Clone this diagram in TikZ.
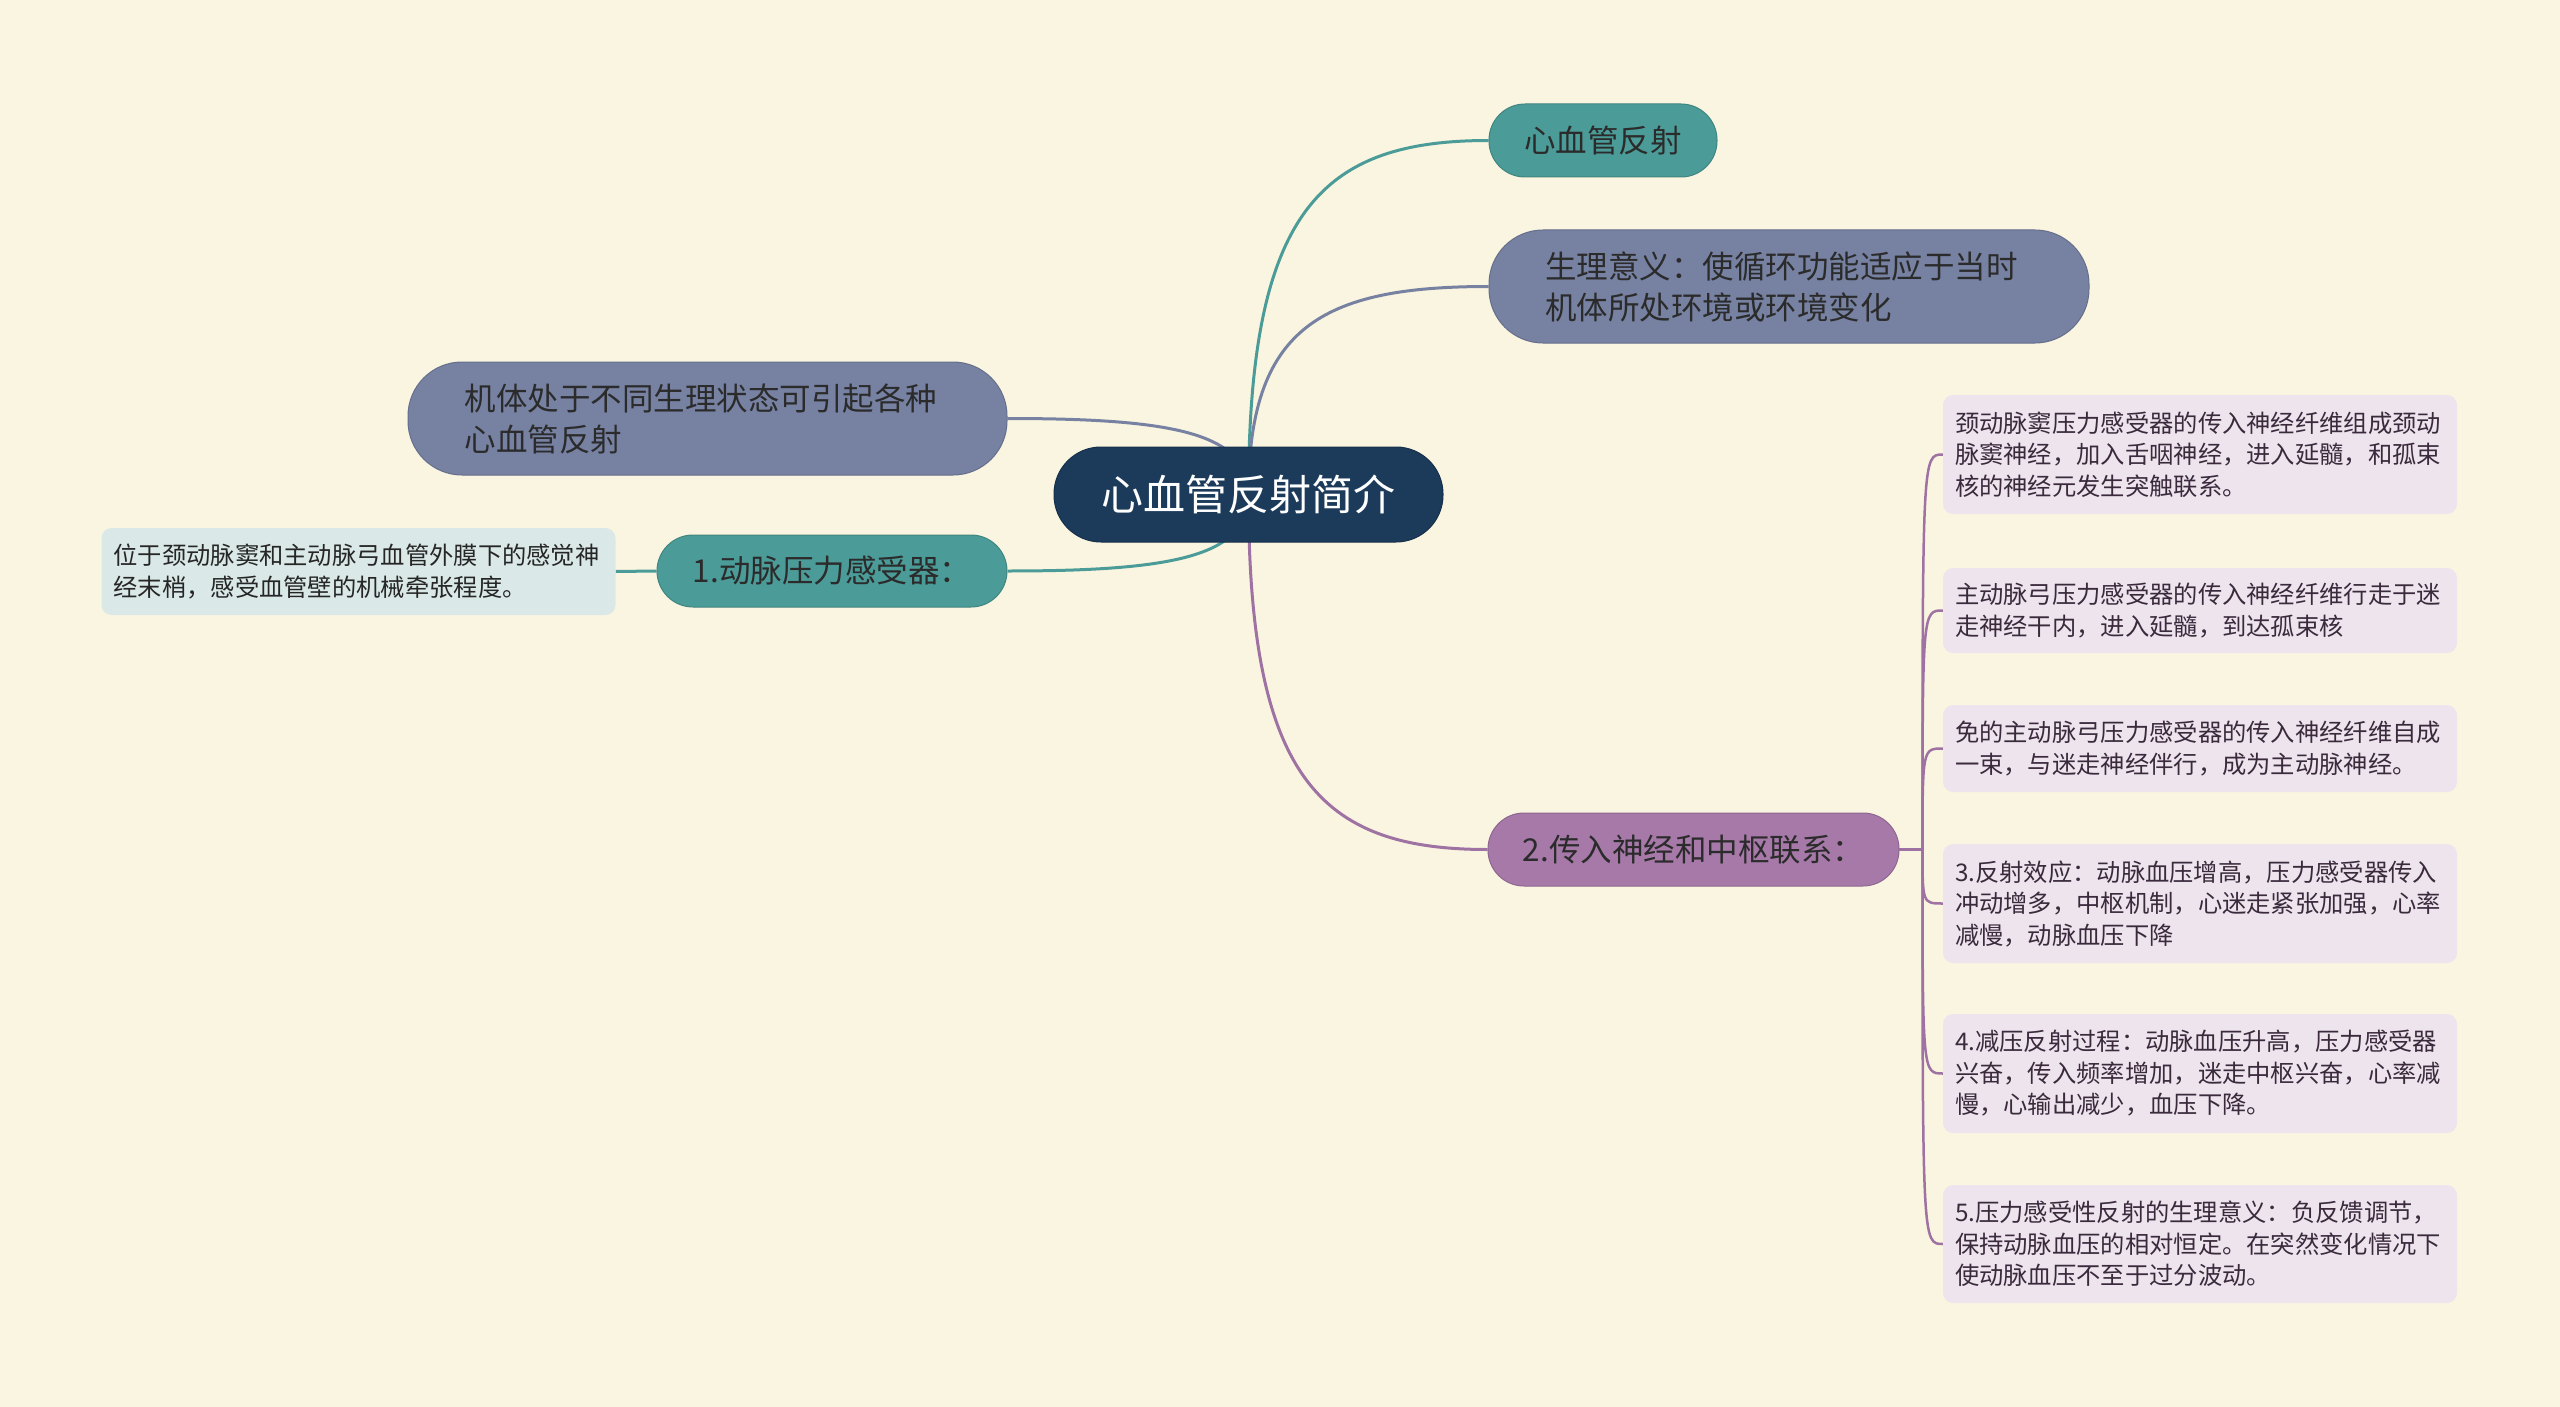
\documentclass[tikz,border=0pt]{standalone}
\usepackage{fontspec}
\newfontfamily\cjk{Noto Sans CJK SC}
\usetikzlibrary{calc}
\definecolor{bgc}{HTML}{FAF5E0}
\definecolor{navy}{HTML}{1C3B5B}
\definecolor{tealc}{HTML}{4B9C98}
\definecolor{slatec}{HTML}{7782A3}
\definecolor{purplec}{HTML}{A679A9}
\definecolor{purpleline}{HTML}{9E72A2}
\definecolor{lpurple}{HTML}{EDE4EE}
\definecolor{lblue}{HTML}{DAE9E8}
\definecolor{darktext}{HTML}{2B2B2B}
\definecolor{boxtext}{HTML}{3A2A3C}
\pgfdeclarelayer{bg}
\pgfdeclarelayer{edges}
\pgfsetlayers{bg,edges,main}
\begin{document}
\begin{tikzpicture}[x=1pt,y=-1pt,
  rootnode/.style={fill=navy, draw=navy!80!black, line width=1pt, text=white, inner sep=0pt,
    minimum width=389pt, minimum height=95pt, rounded corners=47pt,
    font={\cjk\fontsize{42}{50}\selectfont}},
  pill/.style={line width=1pt, text=darktext, inner sep=0pt,
    font={\cjk\fontsize{31.5}{41}\selectfont}},
  tealpill/.style={pill, fill=tealc, draw=tealc!85!black},
  slatepill/.style={pill, fill=slatec, draw=slatec!85!black},
  purplepill/.style={pill, fill=purplec, draw=purplec!85!black},
  infobox/.style={fill=lpurple, text=boxtext, inner xsep=12pt, inner ysep=0pt, text width=490pt,
    align=left, minimum width=510pt, rounded corners=10pt,
    font={\cjk\fontsize{24.3}{31.5}\selectfont}},
  bluebox/.style={infobox, fill=lblue, text=black!85, minimum width=507pt},
  tealedge/.style={draw=tealc, line width=3pt},
  slateedge/.style={draw=slatec, line width=3pt},
  purpleedge/.style={draw=purpleline, line width=3pt},
  subedge/.style={draw=purpleline, line width=2.5pt}
]
\begin{pgfonlayer}{bg}
\fill[bgc] (0,0) rectangle (2560,1407);
\end{pgfonlayer}
\useasboundingbox (0,0) rectangle (2560,1407);

% central
\node[rootnode] (root) at (1248.5,494.5) {心血管反射简介};

% right branches
\node[tealpill, minimum width=228pt, minimum height=73pt, rounded corners=36pt] (c1) at (1603,140.5) {心血管反射};
\node[slatepill, minimum width=600pt, minimum height=113pt, rounded corners=54pt, text width=488pt, align=left] (c2) at (1789,286.5) {生理意义：使循环功能适应于当时\\机体所处环境或环境变化};
\node[purplepill, minimum width=411pt, minimum height=73pt, rounded corners=36pt] (c3) at (1693.5,849.5) {2.传入神经和中枢联系：};

% left branches
\node[slatepill, minimum width=599pt, minimum height=113pt, rounded corners=54pt, text width=486pt, align=left] (l1) at (707.5,418.5) {机体处于不同生理状态可引起各种\\心血管反射};
\node[tealpill, minimum width=350pt, minimum height=72pt, rounded corners=36pt] (l2) at (832,571) {1.动脉压力感受器：};
\node[bluebox, minimum height=87pt] (l2a) at (358.5,571.5) {位于颈动脉窦和主动脉弓血管外膜下的感觉神\\经末梢，感受血管壁的机械牵张程度。};

% right info boxes
\node[infobox, minimum height=119pt] (b1) at (2200,454.5) {颈动脉窦压力感受器的传入神经纤维组成颈动\\脉窦神经，加入舌咽神经，进入延髓，和孤束\\核的神经元发生突触联系。};
\node[infobox, minimum height=85pt] (b2) at (2200,610.5) {主动脉弓压力感受器的传入神经纤维行走于迷\\走神经干内，进入延髓，到达孤束核};
\node[infobox, minimum height=87pt] (b3) at (2200,748.5) {免的主动脉弓压力感受器的传入神经纤维自成\\一束，与迷走神经伴行，成为主动脉神经。};
\node[infobox, minimum height=119pt] (b4) at (2200,903.5) {3.反射效应：动脉血压增高，压力感受器传入\\冲动增多，中枢机制，心迷走紧张加强，心率\\减慢，动脉血压下降};
\node[infobox, minimum height=119pt] (b5) at (2200,1073.5) {4.减压反射过程：动脉血压升高，压力感受器\\兴奋，传入频率增加，迷走中枢兴奋，心率减\\慢，心输出减少，血压下降。};
\node[infobox, minimum height=118pt] (b6) at (2200,1244) {5.压力感受性反射的生理意义：负反馈调节，\\保持动脉血压的相对恒定。在突然变化情况下\\使动脉血压不至于过分波动。};

\coordinate (j) at ($(c3.east)+(23,0)$);

\begin{pgfonlayer}{edges}
\draw[tealedge] (root.center) .. controls ($(root.center)!0.8!(root.center |- c1.west)$) and ($(root.center |- c1.west)!0.3!(c1.west)$) .. (c1.west);
\draw[slateedge] (root.center) .. controls ($(root.center)!0.8!(root.center |- c2.west)$) and ($(root.center |- c2.west)!0.3!(c2.west)$) .. (c2.west);
\draw[purpleedge] (root.center) .. controls ($(root.center)!0.8!(root.center |- c3.west)$) and ($(root.center |- c3.west)!0.3!(c3.west)$) .. (c3.west);
\draw[slateedge] (root.center) .. controls ($(root.center)!0.8!(root.center |- l1.east)$) and ($(root.center |- l1.east)!0.3!(l1.east)$) .. (l1.east);
\draw[tealedge] (root.center) .. controls ($(root.center)!0.8!(root.center |- l2.east)$) and ($(root.center |- l2.east)!0.3!(l2.east)$) .. (l2.east);
\draw[tealedge] (l2.west) -- (l2a.east);
\foreach \b in {b1,b2,b3,b4,b5,b6}{
  \draw[subedge] (c3.east) -- (j) .. controls (j |- \b.west) .. (\b.west);
}
\end{pgfonlayer}
\end{tikzpicture}
\end{document}
